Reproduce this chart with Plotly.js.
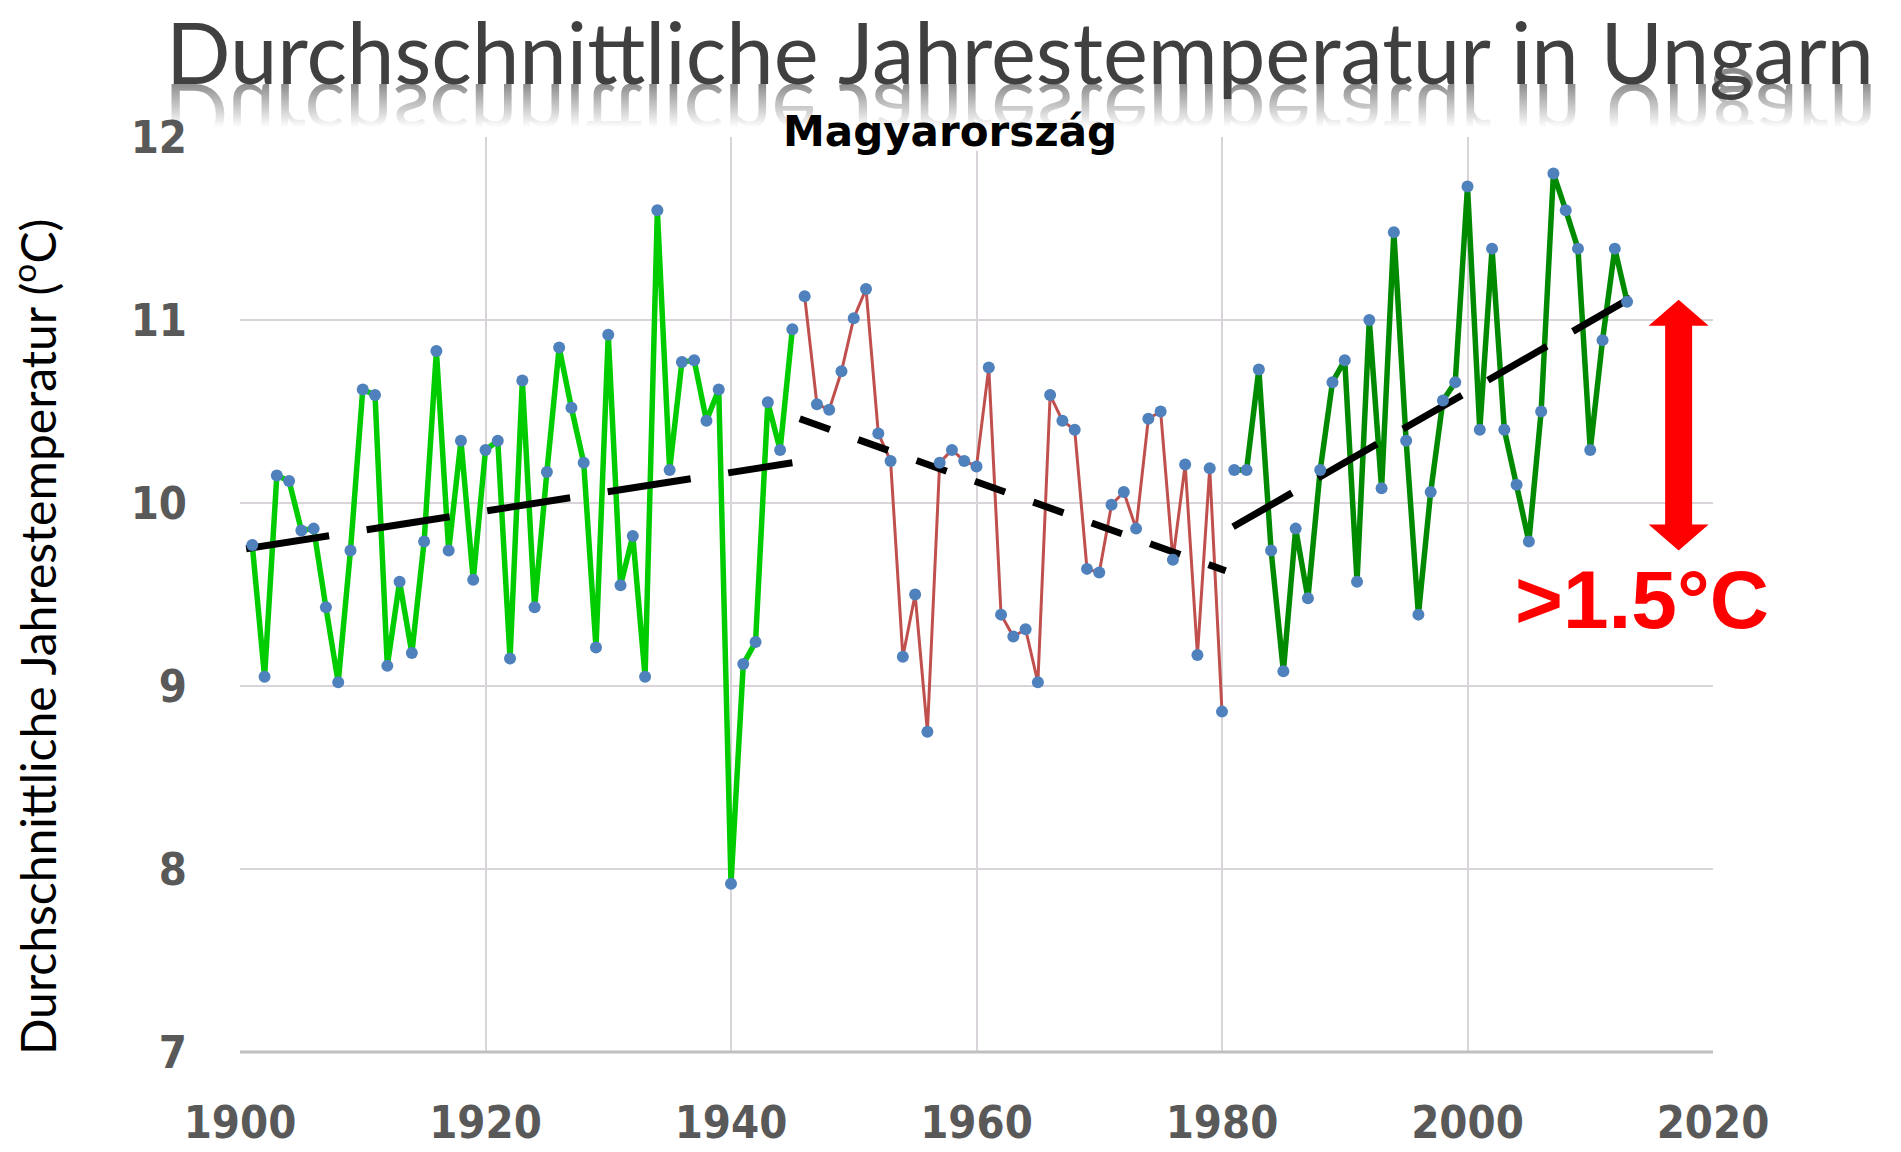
<!DOCTYPE html>
<html>
<head>
<meta charset="utf-8">
<script src="https://cdn.plot.ly/plotly-3.0.1.min.js"></script>
<style>
  html, body { margin: 0; padding: 0; background: #ffffff; }
  #wrap { position: relative; width: 1901px; height: 1152px; }
  #chart { width: 1901px; height: 1152px; }
  #refl { position: absolute; left: 0; top: 0; pointer-events: none; }
</style>
</head>
<body>
<div id="wrap">
  <div id="chart"></div>
  <canvas id="refl" width="1901" height="150"></canvas>
</div>
<script>
// ---- Data ----
const years1 = [1901,1902,1903,1904,1905,1906,1907,1908,1909,1910,1911,1912,1913,1914,1915,1916,1917,1918,1919,1920,1921,1922,1923,1924,1925,1926,1927,1928,1929,1930,1931,1932,1933,1934,1935,1936,1937,1938,1939,1940,1941,1942,1943,1944,1945];
const temps1 = [9.77,9.05,10.15,10.12,9.85,9.86,9.43,9.02,9.74,10.62,10.59,9.11,9.57,9.18,9.79,10.83,9.74,10.34,9.58,10.29,10.34,9.15,10.67,9.43,10.17,10.85,10.52,10.22,9.21,10.92,9.55,9.82,9.05,11.60,10.18,10.77,10.78,10.45,10.62,7.92,9.12,9.24,10.55,10.29,10.95];

const years2 = [1946,1947,1948,1949,1950,1951,1952,1953,1954,1955,1956,1957,1958,1959,1960,1961,1962,1963,1964,1965,1966,1967,1968,1969,1970,1971,1972,1973,1974,1975,1976,1977,1978,1979,1980];
const temps2 = [11.13,10.54,10.51,10.72,11.01,11.17,10.38,10.23,9.16,9.50,8.75,10.22,10.29,10.23,10.20,10.74,9.39,9.27,9.31,9.02,10.59,10.45,10.40,9.64,9.62,9.99,10.06,9.86,10.46,10.50,9.69,10.21,9.17,10.19,8.86];

const years3 = [1981,1982,1983,1984,1985,1986,1987,1988,1989,1990,1991,1992,1993,1994,1995,1996,1997,1998,1999,2000,2001,2002,2003,2004,2005,2006,2007,2008,2009,2010,2011,2012,2013];
const temps3 = [10.18,10.18,10.73,9.74,9.08,9.86,9.48,10.18,10.66,10.78,9.57,11.00,10.08,11.48,10.34,9.39,10.06,10.56,10.66,11.73,10.40,11.39,10.40,10.10,9.79,10.50,11.80,11.60,11.39,10.29,10.89,11.39,11.10];

// trend segments (start/end)
const trend1X = [1900.5, 1945.0];
const trend1Y = [9.75, 10.22];
const trend2X = [1945.6, 1980.3];
const trend2Y = [10.46, 9.63];
const trend3X = [1980.9, 2013.3];
const trend3Y = [9.87, 11.12];

// arrow marking the rise
const arrowYear = 2017.2;
const arrowTop = 11.11;
const arrowBottom = 9.74;
const riseLabel = '>1.5°C';
const riseLabelPos = [2014.2, 9.47];

const xRange = [1900, 2020];
const yRange = [7, 12];
const xTickVals = [1900, 1920, 1940, 1960, 1980, 2000, 2020];
const yTickVals = [7, 8, 9, 10, 11, 12];

const chartTitle = 'Durchschnittliche Jahrestemperatur in Ungarn';
const subTitle = 'Magyarország';
const yTitle = 'Durchschnittliche Jahrestemperatur (<sup>o</sup>C)';

// ---- Geometry helpers (layout only) ----
const W = 1901, H = 1152;
const M = { l: 240, r: 188, t: 137, b: 100 };
const plotW = W - M.l - M.r, plotH = H - M.t - M.b;
const pxToYears = px => px * (xRange[1] - xRange[0]) / plotW;
const pxToDeg = px => px * (yRange[1] - yRange[0]) / plotH;

// double arrow as a filled path, built from the arrow values
function arrowPath(x, top, bot) {
  const hw = pxToYears(30), sw = pxToYears(13.5), hl = pxToDeg(26);
  const P = (a, b) => a + ',' + b;
  return 'M' + P(x, top) + ' L' + P(x + hw, top - hl) + ' L' + P(x + sw, top - hl) +
         ' L' + P(x + sw, bot + hl) + ' L' + P(x + hw, bot + hl) + ' L' + P(x, bot) +
         ' L' + P(x - hw, bot + hl) + ' L' + P(x - sw, bot + hl) + ' L' + P(x - sw, top - hl) +
         ' L' + P(x - hw, top - hl) + ' Z';
}

// ---- Traces ----
const lineTrace = (x, y, color, width) => ({
  x, y, type: 'scatter', mode: 'lines',
  line: { color, width }, hoverinfo: 'skip', showlegend: false
});
const trendTrace = (x, y, dash) => ({
  x, y, type: 'scatter', mode: 'lines',
  line: { color: '#000000', width: 7, dash }, hoverinfo: 'skip', showlegend: false
});

const allYears = years1.concat(years2, years3);
const allTemps = temps1.concat(temps2, temps3);

const data = [
  lineTrace(years1, temps1, '#00cc00', 5.5),
  lineTrace(years2, temps2, '#c0504d', 3),
  lineTrace(years3, temps3, '#008a00', 5.5),
  trendTrace(trend1X, trend1Y, '84px,38px'),
  trendTrace(trend2X, trend2Y, '32px,30px'),
  trendTrace(trend3X, trend3Y, '68px,30px'),
  {
    x: allYears, y: allTemps, type: 'scatter', mode: 'markers',
    marker: { color: '#4f81bd', size: 12 }, showlegend: false
  }
];

const tickFont = { family: '"DejaVu Sans Condensed", "DejaVu Sans", sans-serif', size: 45, color: '#595959', weight: 700 };
const titleSize = 85;

const layout = {
  width: W, height: H,
  margin: { l: M.l, r: M.r, t: M.t, b: M.b, pad: 0 },
  paper_bgcolor: '#ffffff', plot_bgcolor: '#ffffff',
  showlegend: false,
  title: {
    text: chartTitle,
    font: { family: 'Lato, "Open Sans", sans-serif', size: titleSize, color: '#404040' },
    x: 1020 / W, xanchor: 'center', xref: 'container',
    y: 1 - 54 / H, yanchor: 'middle', yref: 'container'
  },
  xaxis: {
    range: xRange,
    tickvals: xTickVals,
    ticks: '', showline: false,
    showgrid: true, gridcolor: '#d9d4d9', gridwidth: 2,
    zeroline: false,
    tickfont: tickFont,
    ticklabelstandoff: 40,
    fixedrange: true
  },
  yaxis: {
    range: yRange,
    tickvals: yTickVals,
    ticks: '', showline: false,
    showgrid: true, gridcolor: '#d9d4d9', gridwidth: 2,
    zeroline: false,
    tickfont: tickFont,
    ticklabelstandoff: 52,
    fixedrange: true
  },
  shapes: [
    // bottom axis line
    { type: 'line', xref: 'paper', yref: 'paper', x0: 0, x1: 1, y0: 0, y1: 0,
      line: { color: '#bfbfbf', width: 3 }, layer: 'above' },
    // white gap in top gridline behind the subtitle
    { type: 'rect', xref: 'paper', yref: 'paper',
      x0: (761 - M.l) / plotW, x1: (1161 - M.l) / plotW, y0: 0.985, y1: 1.01,
      fillcolor: '#ffffff', line: { width: 0 }, layer: 'above' },
    // red double arrow
    { type: 'path', xref: 'x', yref: 'y', path: arrowPath(arrowYear, arrowTop, arrowBottom),
      fillcolor: '#ff0000', line: { width: 0 }, layer: 'above' }
  ],
  annotations: [
    {
      text: subTitle, xref: 'paper', yref: 'paper',
      x: (950 - M.l) / plotW, y: 1 + 6 / plotH, xanchor: 'center', yanchor: 'middle',
      showarrow: false,
      font: { family: '"DejaVu Sans", sans-serif', size: 42, color: '#000000', weight: 700 }
    },
    {
      text: yTitle, xref: 'paper', yref: 'paper',
      x: (34 - M.l) / plotW, y: (H - M.b - 637) / plotH,
      xanchor: 'center', yanchor: 'middle', textangle: -90,
      showarrow: false,
      font: { family: 'Lato, "Open Sans", sans-serif', size: 48, color: '#000000' }
    },
    {
      text: riseLabel, x: riseLabelPos[0], y: riseLabelPos[1],
      xref: 'x', yref: 'y', xanchor: 'center', yanchor: 'middle',
      showarrow: false,
      font: { family: '"Liberation Sans", Arial, sans-serif', size: 82, color: '#ff0000', weight: 700 }
    }
  ]
};

const gd = document.getElementById('chart');
Plotly.newPlot(gd, data, layout, { displayModeBar: false, responsive: false }).then(() => {
  // drop empty placeholder text nodes left by the library
  gd.querySelectorAll('text').forEach(el => {
    if (!el.textContent || !el.textContent.trim()) el.remove();
  });
  // faded mirror reflection of the title (decoration painted on a canvas)
  const t = gd.querySelector('text.gtitle');
  if (!t) return;
  const bb = t.getBBox();
  const base = bb.y + bb.height - 0.213 * titleSize;
  const cv = document.getElementById('refl');
  const ctx = cv.getContext('2d');
  ctx.save();
  ctx.translate(0, 2 * base);
  ctx.scale(1, -1);
  ctx.font = titleSize + 'px Lato, "Open Sans", sans-serif';
  ctx.textAlign = 'center';
  ctx.textBaseline = 'alphabetic';
  ctx.fillStyle = '#404040';
  ctx.fillText(chartTitle, bb.x + bb.width / 2, base);
  ctx.restore();
  ctx.globalCompositeOperation = 'destination-in';
  const g = ctx.createLinearGradient(0, base, 0, base + 44);
  g.addColorStop(0, 'rgba(0,0,0,0.6)');
  g.addColorStop(1, 'rgba(0,0,0,0)');
  ctx.fillStyle = g;
  ctx.fillRect(0, 0, cv.width, cv.height);
  ctx.globalCompositeOperation = 'source-over';
});
</script>
</body>
</html>
